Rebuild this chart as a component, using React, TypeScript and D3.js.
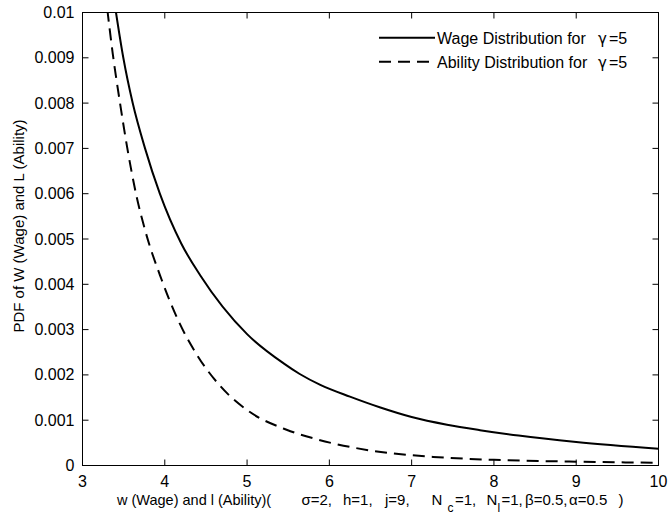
import { useEffect, useRef } from "react";
import * as d3 from "d3";

// values (x = wage / ability, y = pdf)
const wageX = [3.35, 3.407, 3.496, 3.61, 3.76, 3.94, 4.2, 4.43, 5.0, 5.44, 5.64, 5.89, 6.25, 6.62, 7.0, 7.43, 7.83, 8.3, 9.0, 10.0];
const wageY = [0.0107, 0.01, 0.009, 0.008, 0.007, 0.006, 0.0049, 0.0042, 0.0029, 0.00226, 0.00202, 0.00178, 0.00152, 0.00128, 0.00107, 0.0009, 0.00078, 0.00066, 0.00052, 0.00037];

const abilityX = [3.25, 3.306, 3.367, 3.456, 3.545, 3.65, 3.76, 3.962, 4.164, 4.388, 4.671, 5.035, 5.48, 5.846, 6.5, 7.26, 8.0, 9.0, 10.0];
const abilityY = [0.0109, 0.01, 0.0091, 0.008, 0.007, 0.006, 0.0052, 0.0041, 0.0032, 0.00245, 0.00176, 0.00118, 0.00079, 0.00058, 0.00033, 0.00019, 0.000125, 0.000085, 0.00006];

const xTicks = [3, 4, 5, 6, 7, 8, 9, 10];
const yTicks = [0, 0.001, 0.002, 0.003, 0.004, 0.005, 0.006, 0.007, 0.008, 0.009, 0.01];
const yTickLabels = ["0", "0.001", "0.002", "0.003", "0.004", "0.005", "0.006", "0.007", "0.008", "0.009", "0.01"];

const legendItems = [
  { label: "Wage Distribution for", dash: "none" },
  { label: "Ability Distribution for", dash: "12,7" },
];

// x label pieces: text, left position, subscript?
const xLabelParts: [string, number, boolean][] = [
  ["w (Wage) and l (Ability)(", 117, false],
  ["σ=2,", 301.5, false],
  ["h=1,", 343, false],
  ["j=9,", 385, false],
  ["N", 431.5, false],
  ["c", 447.5, true],
  ["=1,", 455, false],
  ["N", 486.5, false],
  ["l", 497.5, true],
  ["=1,", 501.5, false],
  ["β=0.5,", 525, false],
  ["α=0.5", 569, false],
  [")", 618.5, false],
];

const W = 668;
const H = 517;
const FONT = "'Liberation Sans', Arial, Helvetica, sans-serif";
const GREEK = "'DejaVu Sans', 'Liberation Sans', sans-serif";

export default function App() {
  const svgRef = useRef<SVGSVGElement>(null);

  useEffect(() => {
    if (!svgRef.current) return;
    const svg = d3.select(svgRef.current);
    svg.selectAll("*").remove();

    const left = 82.5;
    const right = 658.5;
    const top = 12.5;
    const bottom = 465.5;

    const x = d3.scaleLinear().domain([3, 10]).range([left, right]);
    const y = d3.scaleLinear().domain([0, 0.01]).range([bottom, top]);

    svg.append("rect").attr("width", W).attr("height", H).attr("fill", "#fff");

    svg
      .append("clipPath")
      .attr("id", "plot-clip")
      .append("rect")
      .attr("x", left)
      .attr("y", top)
      .attr("width", right - left)
      .attr("height", bottom - top);

    const line = d3
      .line<[number, number]>()
      .x((d) => x(d[0]))
      .y((d) => y(d[1]))
      .curve(d3.curveMonotoneX);

    const curves = svg.append("g").attr("clip-path", "url(#plot-clip)");
    curves
      .append("path")
      .attr("d", line(wageX.map((v, i) => [v, wageY[i]] as [number, number])))
      .attr("fill", "none")
      .attr("stroke", "#000")
      .attr("stroke-width", 2);
    curves
      .append("path")
      .attr("d", line(abilityX.map((v, i) => [v, abilityY[i]] as [number, number])))
      .attr("fill", "none")
      .attr("stroke", "#000")
      .attr("stroke-width", 2)
      .attr("stroke-dasharray", "12,7");

    // box + inward ticks on all four sides
    const axes = svg.append("g").attr("stroke", "#000").attr("stroke-width", 1);
    axes
      .append("rect")
      .attr("x", left)
      .attr("y", top)
      .attr("width", right - left)
      .attr("height", bottom - top)
      .attr("fill", "none");
    const tl = 6;
    xTicks.forEach((t) => {
      axes.append("line").attr("x1", x(t)).attr("x2", x(t)).attr("y1", bottom).attr("y2", bottom - tl);
      axes.append("line").attr("x1", x(t)).attr("x2", x(t)).attr("y1", top).attr("y2", top + tl);
    });
    yTicks.forEach((t) => {
      axes.append("line").attr("x1", left).attr("x2", left + tl).attr("y1", y(t)).attr("y2", y(t));
      axes.append("line").attr("x1", right).attr("x2", right - tl).attr("y1", y(t)).attr("y2", y(t));
    });

    const labels = svg.append("g").attr("font-family", FONT).attr("fill", "#000");

    labels
      .selectAll("text.xt")
      .data(xTicks)
      .join("text")
      .attr("class", "xt")
      .attr("x", (d) => x(d))
      .attr("y", 487)
      .attr("text-anchor", "middle")
      .attr("font-size", 16)
      .text((d) => String(d));

    labels
      .selectAll("text.yt")
      .data(yTicks)
      .join("text")
      .attr("class", "yt")
      .attr("x", 74.5)
      .attr("y", (d) => y(d) + 5.5)
      .attr("text-anchor", "end")
      .attr("font-size", 16)
      .text((_, i) => yTickLabels[i]);

    // y label
    labels
      .append("text")
      .attr("transform", "translate(24,226) rotate(-90)")
      .attr("text-anchor", "middle")
      .attr("font-size", 15)
      .text("PDF of W (Wage) and L (Ability)");

    // x label (MATLAB tex string with subscripts)
    labels
      .selectAll("text.xl")
      .data(xLabelParts)
      .join("text")
      .attr("class", "xl")
      .attr("x", (d) => d[1])
      .attr("y", (d) => (d[2] ? 512 : 504.5))
      .attr("font-size", (d, i) => (d[2] ? 12 : i === 0 ? 14.5 : 15))
      .text((d) => d[0]);

    // legend (no box)
    const lg = svg.append("g");
    legendItems.forEach((item, i) => {
      const ly = 37.7 + i * 24;
      lg.append("line")
        .attr("x1", 379)
        .attr("x2", 435)
        .attr("y1", ly)
        .attr("y2", ly)
        .attr("stroke", "#000")
        .attr("stroke-width", 2)
        .attr("stroke-dasharray", item.dash);
      const t = lg
        .append("text")
        .attr("font-family", FONT)
        .attr("font-size", 16)
        .attr("y", ly + 5.8);
      t.append("tspan").attr("x", 437).text(item.label);
      t.append("tspan").attr("x", 598).attr("font-family", GREEK).attr("font-size", 15).text("γ");
      t.append("tspan").attr("x", 609).text("=5");
    });
  }, []);

  return (
    <svg
      ref={svgRef}
      width={W}
      height={H}
      style={{ position: "fixed", left: 0, top: 0, display: "block" }}
    />
  );
}
